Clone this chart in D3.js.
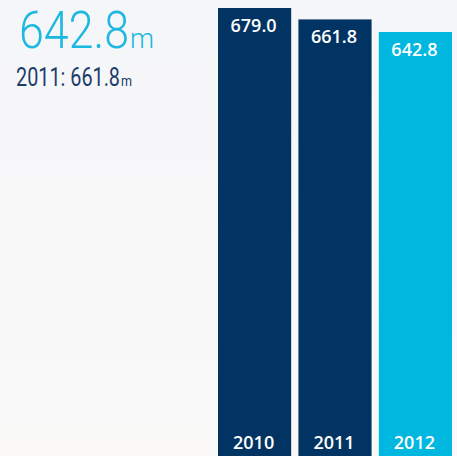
<!DOCTYPE html>
<html>
<head>
<meta charset="utf-8">
<script src="https://cdn.jsdelivr.net/npm/d3@7"></script>
<style>
  html, body { margin: 0; padding: 0; background: #f6f7f9; }
  svg { display: block; }
</style>
</head>
<body>
<div id="chart"></div>
<script>
// data
const years = ["2010", "2011", "2012"];
const values = [679.0, 661.8, 642.8];
const barColors = ["#023463", "#023463", "#00b7df"];
const headline = "642.8";
const previous = "2011: 661.8";
const unit = "m";

const W = 457, H = 456;

const svg = d3.select("#chart")
    .append("svg")
    .attr("width", W)
    .attr("height", H);

// soft background gradient
const grad = svg.append("defs").append("linearGradient")
    .attr("id", "bg")
    .attr("x1", 0).attr("y1", 0)
    .attr("x2", 0).attr("y2", 1);
grad.append("stop").attr("offset", "0%").attr("stop-color", "#f5f6f9");
grad.append("stop").attr("offset", "100%").attr("stop-color", "#faf9f8");
svg.append("rect")
    .attr("width", W).attr("height", H)
    .attr("fill", "url(#bg)");

const x = d3.scaleBand()
    .domain(years)
    .range([218, 452])
    .paddingInner(0.09)
    .paddingOuter(0);

// bars run off the bottom edge a little
const y = d3.scaleLinear()
    .domain([0, 679])
    .range([458, 8]);

const bars = svg.append("g")
    .selectAll("g")
    .data(years)
    .enter()
    .append("g");

bars.append("rect")
    .attr("x", d => x(d))
    .attr("width", x.bandwidth())
    .attr("y", (d, i) => y(values[i]))
    .attr("height", (d, i) => y(0) - y(values[i]))
    .attr("fill", (d, i) => barColors[i]);

bars.append("text")
    .attr("x", d => x(d) + x.bandwidth() / 2 - 1)
    .attr("y", (d, i) => y(values[i]) + 24)
    .attr("text-anchor", "middle")
    .attr("fill", "#ffffff")
    .style("font-family", "'Open Sans', sans-serif")
    .style("font-weight", 600)
    .style("font-size", "18px")
    .text((d, i) => values[i].toFixed(1));

bars.append("text")
    .attr("x", d => x(d) + x.bandwidth() / 2 - 1)
    .attr("y", 449)
    .attr("text-anchor", "middle")
    .attr("fill", "#ffffff")
    .style("font-family", "'Open Sans', sans-serif")
    .style("font-weight", 600)
    .style("font-size", "18px")
    .text(d => d);

// headline figure, unit as a smaller tspan
const big = svg.append("text")
    .attr("x", 19)
    .attr("y", 48)
    .attr("fill", "#1cb8e0")
    .style("font-family", "Roboto, sans-serif")
    .style("font-weight", 300);
big.append("tspan")
    .style("font-size", "52px")
    .attr("textLength", 110)
    .attr("lengthAdjust", "spacingAndGlyphs")
    .text(headline);
big.append("tspan")
    .attr("dx", 1)
    .style("font-size", "28px")
    .attr("textLength", 24)
    .attr("lengthAdjust", "spacingAndGlyphs")
    .text(unit);

const prev = svg.append("text")
    .attr("x", 16)
    .attr("y", 86)
    .attr("fill", "#1d3d6a")
    .style("font-family", "Roboto, sans-serif")
    .style("font-weight", 400);
prev.append("tspan")
    .style("font-size", "25px")
    .attr("textLength", 104)
    .attr("lengthAdjust", "spacingAndGlyphs")
    .text(previous);
prev.append("tspan")
    .attr("dx", 1)
    .style("font-size", "15px")
    .attr("textLength", 11)
    .attr("lengthAdjust", "spacingAndGlyphs")
    .text(unit);
</script>
</body>
</html>
